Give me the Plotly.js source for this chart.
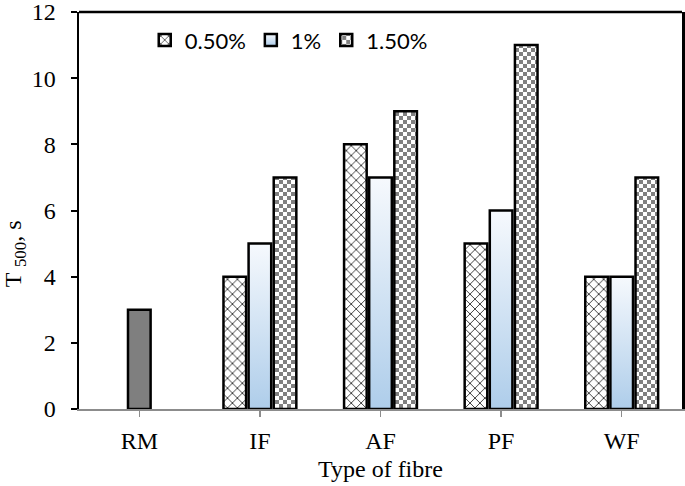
<!DOCTYPE html>
<html>
<head>
<meta charset="utf-8">
<script src="https://cdn.plot.ly/plotly-3.0.1.min.js"></script>
<style>
html,body{margin:0;padding:0;background:#fff;}
#chart{width:685px;height:486px;}
</style>
</head>
<body>
<div id="chart"></div>
<script>
const categories = ['RM', 'IF', 'AF', 'PF', 'WF'];
const seriesNames = ['0.50%', '1%', '1.50%'];
const values050 = [null, 4, 8, 5, 4];
const values100 = [null, 5, 7, 6, 4];
const values150 = [null, 7, 9, 11, 7];
const rmCategory = ['RM'];
const rmValue = [3];
const yTicks = [0, 2, 4, 6, 8, 10, 12];
const xTitle = 'Type of fibre';
const yTitle = 'T <sub>500</sub>, s';

const outline = {color: '#000', width: 2.5};
const serif = '"Liberation Serif", "Times New Roman", serif';

const traces = [
  {type: 'bar', name: seriesNames[0], x: categories, y: values050, offsetgroup: 'a',
   marker: {color: '#ffffff', line: outline,
            pattern: {shape: 'x', fgcolor: '#000', bgcolor: '#fff', size: 7, solidity: 0.2}}},
  {type: 'bar', name: seriesNames[1], x: categories, y: values100, offsetgroup: 'b',
   marker: {color: '#cfe1f2', line: outline}},
  {type: 'bar', name: seriesNames[2], x: categories, y: values150, offsetgroup: 'c',
   marker: {color: '#ffffff', line: outline,
            pattern: {shape: '.', fgcolor: '#808080', bgcolor: '#fff', size: 8, solidity: 0.5}}},
  {type: 'bar', name: 'RM', x: rmCategory, y: rmValue, offsetgroup: 'b', showlegend: false,
   marker: {color: '#7f7f7f', line: outline}}
];

const layout = {
  width: 685, height: 486,
  margin: {l: 79, r: 3, t: 12, b: 77},
  paper_bgcolor: '#fff', plot_bgcolor: '#fff',
  barmode: 'group', bargap: 0.375, bargroupgap: 0.1,
  font: {family: serif, color: '#000', size: 24},
  showlegend: true,
  legend: {orientation: 'h', x: 0.109, xanchor: 'left', y: 0.982, yanchor: 'top',
           font: {family: 'Lato, Carlito, "Noto Sans", sans-serif', size: 22, color: '#000'},
           bgcolor: 'rgba(0,0,0,0)', traceorder: 'normal', itemwidth: 30},
  xaxis: {
    type: 'category', categoryorder: 'array', categoryarray: categories,
    range: [-0.5, 4.5],
    showline: true, linecolor: '#8c8c8c', linewidth: 2,
    ticks: 'outside', tickcolor: '#8c8c8c', ticklen: 6, tickwidth: 1.5,
    ticklabelstandoff: 3,
    showgrid: false, zeroline: false,
    tickfont: {family: serif, size: 24}
  },
  yaxis: {
    range: [0, 12], tickvals: yTicks, ticktext: yTicks.map(String),
    showline: true, linecolor: '#000', linewidth: 2.5, mirror: true,
    ticks: 'outside', tickcolor: '#000', ticklen: 6, tickwidth: 2,
    ticklabelstandoff: 10, ticklabeloverflow: 'allow',
    showgrid: false, zeroline: false,
    tickfont: {family: serif, size: 24}
  },
  annotations: [
    {text: xTitle, xref: 'paper', yref: 'paper', x: 0.5, y: -0.152, xanchor: 'center', yanchor: 'middle',
     showarrow: false, font: {family: serif, size: 24, color: '#000'}},
    {text: yTitle, xref: 'paper', yref: 'paper', x: -0.106, y: 0.39, xanchor: 'center', yanchor: 'middle',
     textangle: -90, showarrow: false, font: {family: serif, size: 24, color: '#000'}}
  ],
  shapes: [
    {type: 'line', xref: 'paper', yref: 'paper', x0: 0, x1: 1, y0: 1, y1: 1,
     line: {color: '#000', width: 2.5}}
  ]
};

Plotly.newPlot('chart', traces, layout, {displayModeBar: false, staticPlot: true}).then(function (gd) {
  const svgNS = 'http://www.w3.org/2000/svg';
  const svg = gd.querySelector('svg.main-svg');
  let defs = svg.querySelector('defs');
  if (!defs) { defs = document.createElementNS(svgNS, 'defs'); svg.insertBefore(defs, svg.firstChild); }

  const grad = document.createElementNS(svgNS, 'linearGradient');
  grad.setAttribute('id', 'blueGrad');
  grad.setAttribute('x1', '0'); grad.setAttribute('y1', '0');
  grad.setAttribute('x2', '0'); grad.setAttribute('y2', '1');
  [['0', '#f6f9fd'], ['1', '#aecdea']].forEach(function (s) {
    const st = document.createElementNS(svgNS, 'stop');
    st.setAttribute('offset', s[0]); st.setAttribute('stop-color', s[1]);
    grad.appendChild(st);
  });
  defs.appendChild(grad);

  const pat = document.createElementNS(svgNS, 'pattern');
  pat.setAttribute('id', 'checker');
  pat.setAttribute('patternUnits', 'userSpaceOnUse');
  pat.setAttribute('width', '8'); pat.setAttribute('height', '8');
  const bg = document.createElementNS(svgNS, 'rect');
  bg.setAttribute('width', '8'); bg.setAttribute('height', '8'); bg.setAttribute('fill', '#ffffff');
  pat.appendChild(bg);
  [[0, 0], [4, 4]].forEach(function (p) {
    const r = document.createElementNS(svgNS, 'rect');
    r.setAttribute('x', p[0]); r.setAttribute('y', p[1]);
    r.setAttribute('width', '4'); r.setAttribute('height', '4');
    r.setAttribute('fill', '#808080');
    pat.appendChild(r);
  });
  defs.appendChild(pat);

  const barTraces = gd.querySelectorAll('.barlayer .trace.bars');
  if (barTraces[1]) barTraces[1].querySelectorAll('path').forEach(function (p) { p.style.fill = 'url(#blueGrad)'; });
  if (barTraces[2]) barTraces[2].querySelectorAll('path').forEach(function (p) { p.style.fill = 'url(#checker)'; });

  const legTraces = gd.querySelectorAll('.legend .traces');
  if (legTraces[1]) legTraces[1].querySelectorAll('.legendpoints path').forEach(function (p) { p.style.fill = 'url(#blueGrad)'; });
  if (legTraces[2]) legTraces[2].querySelectorAll('.legendpoints path').forEach(function (p) { p.style.fill = 'url(#checker)'; });
});
</script>
</body>
</html>
